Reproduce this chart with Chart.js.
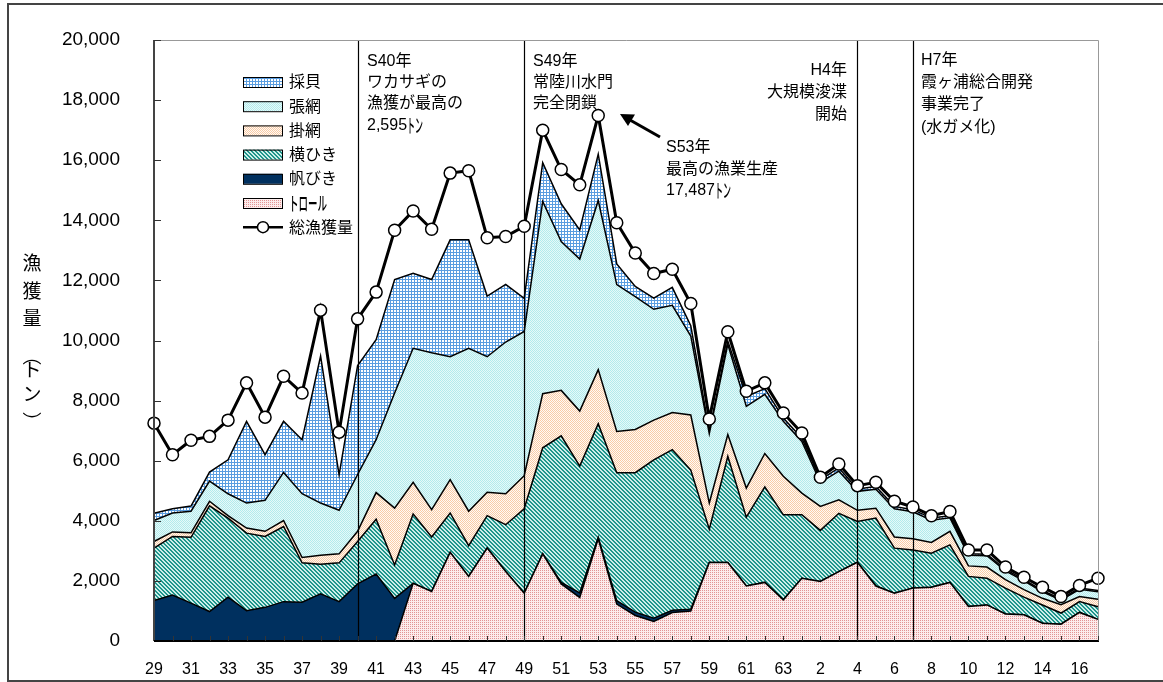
<!DOCTYPE html>
<html>
<head>
<meta charset="utf-8">
<script src="https://cdn.jsdelivr.net/npm/chart.js@4.4.1/dist/chart.umd.min.js"></script>
<style>
  html, body { margin: 0; padding: 0; background: #fff; }
  #wrap { width: 1163px; height: 682px; position: relative; }
</style>
</head>
<body>
<div id="wrap"><canvas id="c" width="1163" height="682"></canvas></div>
<script>
// 年 (S29〜S63, 元, H2〜H17)
const years = [];
for (let y = 29; y <= 63; y++) years.push(String(y));
years.push('元');
for (let y = 2; y <= 17; y++) years.push(String(y));

// 魚種別漁獲量 (トン) — グラフから読み取り
const trawl = [0,0,0,0,0,0,0,0,0,0,0, 0,0,0,1920,1650,2950,2150,3090,2310,1590,
  2900,1900,1450,3400,1230,850,650,950,1000,
  2610,2610,1830,1950,1370,2090,1980,2310,2620,1830,1590,1760,1790,1950,1150,1200,900,870,590,560,950,720];
const hobiki = [1350,1530,1260,980,1460,1010,1120,1310,1290,1570,1310, 1900,2230,1420,0,0,0,0,0,0,0,
  0,50,150,50,110,110,110,70,60,
  0,0,0,0,0,0,0,0,0,0,0,0,0,0,0,0,0,0,0,0,0,0];
const yokohiki = [1740,1950,2190,3520,2630,2580,2360,2500,1310,980,1290, 1410,1820,1110,2310,1810,1310,1020,1080,1560,2810,
  3530,4880,4220,3780,4260,4640,5270,5350,4630,
  1110,3540,2290,3180,2830,2110,1700,1940,1360,2260,1500,1270,1130,1250,1000,890,860,590,610,370,360,420];
const kakeami = [220,150,150,150,80,170,170,200,180,300,300, 340,890,1890,1050,910,1110,1150,780,1030,1100,
  1800,1510,1830,1800,1370,1440,1320,1230,1830,
  870,720,970,1110,1280,720,800,450,370,330,370,370,360,450,350,370,280,250,220,280,170,250];
const hariami = [700,630,720,670,730,830,1030,1600,2120,1740,1450, 1890,1760,3830,4460,5220,4090,5420,4510,5050,4800,
  6400,4950,5060,5630,4890,4420,3690,3570,2630,
  2310,3000,2720,1970,1830,1720,800,950,630,630,940,900,740,450,350,380,290,290,220,150,240,250];
const saikai = [240,140,170,300,1130,2720,1520,1700,1800,4890,1180, 3630,3330,3780,2500,2440,3890,3610,2020,1920,1100,
  1290,1260,970,1540,690,340,370,600,340,
  100,110,330,190,110,110,90,110,80,90,80,70,70,70,50,50,50,40,40,40,40,40];
const total = [7250,6200,6680,6810,7350,8590,7450,8810,8250,11010,6950, 10720,11610,13670,14310,13700,15570,15650,13420,13460,13800,
  17000,15690,15180,17487,13920,12910,12230,12370,11230,
  7390,10290,8310,8590,7590,6920,5450,5890,5170,5280,4650,4460,4170,4310,3030,3030,2460,2120,1790,1480,1850,2090];

// 縦線を引く年の位置 (S40, S49, H4, H7)
const markIdx = [11, 20, 38, 41];

const LAT = '"Liberation Sans", "Noto Sans CJK JP", sans-serif';
const JP = '"Noto Sans CJK JP", sans-serif';

// 塗りパターン
function pat(w, h, draw) {
  const c = document.createElement('canvas');
  c.width = w; c.height = h;
  const g = c.getContext('2d');
  draw(g);
  return g.createPattern(c, 'repeat');
}
const pTrawl = pat(2, 2, g => {
  g.fillStyle = '#fcecec'; g.fillRect(0, 0, 2, 2);
  g.fillStyle = '#e29494'; g.fillRect(0, 0, 1, 1);
});
const pYoko = pat(4, 4, g => {
  g.fillStyle = '#cdeeea'; g.fillRect(0, 0, 4, 4);
  g.fillStyle = '#1f958b';
  for (let i = 0; i < 4; i++) { g.fillRect(i, i, 1, 1); g.fillRect((i + 1) % 4, i, 1, 1); }
});
const pKake = pat(2, 2, g => {
  g.fillStyle = '#fffaf5'; g.fillRect(0, 0, 2, 2);
  g.fillStyle = '#f9cba6'; g.fillRect(0, 0, 1, 1); g.fillRect(1, 1, 1, 1);
});
const pHari = pat(2, 2, g => {
  g.fillStyle = '#e6f9f9'; g.fillRect(0, 0, 2, 2);
  g.fillStyle = '#b2ebec'; g.fillRect(0, 0, 1, 1); g.fillRect(1, 1, 1, 1);
});
const pSai = pat(3, 3, g => {
  g.fillStyle = '#ffffff'; g.fillRect(0, 0, 3, 3);
  g.fillStyle = '#5a9de0'; g.fillRect(0, 0, 3, 1); g.fillRect(0, 0, 1, 3);
});
const navy = '#00305f';

function area(label, data, bg, fill) {
  return {
    label, data, backgroundColor: bg, borderColor: '#000', borderWidth: 1.5,
    fill, pointRadius: 0, tension: 0, order: 1, stack: 'fish'
  };
}

const datasets = [
  area('トロール', trawl, pTrawl, 'origin'),
  area('帆びき', hobiki, navy, '-1'),
  area('横ひき', yokohiki, pYoko, '-1'),
  area('掛網', kakeami, pKake, '-1'),
  area('張網', hariami, pHari, '-1'),
  area('採貝', saikai, pSai, '-1'),
  {
    label: '総漁獲量', data: total, borderColor: '#000', borderWidth: 3,
    backgroundColor: '#fff', pointRadius: 6, pointBorderWidth: 1.5,
    pointBorderColor: '#000', pointBackgroundColor: '#fff',
    fill: false, tension: 0, order: 0, stack: 'total'
  }
];

// 凡例 (上から)
const legendItems = [
  ['採貝', pSai], ['張網', pHari], ['掛網', pKake], ['横ひき', pYoko],
  ['帆びき', navy], ['トロール', pTrawl], ['総漁獲量', null]
];

function text(ctx, lines, x, align) {
  ctx.textAlign = align || 'left';
  ctx.textBaseline = 'middle';
  lines.forEach(l => {
    ctx.font = '16px ' + LAT;
    ctx.fillText(l[0], x, l[1]);
  });
}

// 半角カナ風 (横に縮めて描く)
function narrow(ctx, str, x, y, size, sx) {
  ctx.save();
  ctx.font = '500 ' + size + 'px ' + JP;
  ctx.textAlign = 'left'; ctx.textBaseline = 'middle';
  ctx.translate(x, y); ctx.scale(sx, 1);
  ctx.fillText(str, 0, 0);
  ctx.restore();
}
function numTon(ctx, num, x, y) {
  ctx.font = '16px ' + LAT;
  ctx.textAlign = 'left'; ctx.textBaseline = 'middle';
  ctx.fillText(num, x, y);
  narrow(ctx, 'トン', x + ctx.measureText(num).width, y, 19, 0.42);
}

const deco = {
  id: 'deco',
  beforeDatasetDraw(chart, args) {
    if (args.index !== 6) return;
    const ctx = chart.ctx, a = chart.chartArea, xs = chart.scales.x;
    ctx.save();
    ctx.strokeStyle = '#000';
    ctx.lineWidth = 1.2;
    markIdx.forEach(idx => {
      const x = Math.round(xs.getPixelForValue(idx)) + 0.5;
      ctx.beginPath(); ctx.moveTo(x, a.top); ctx.lineTo(x, a.bottom); ctx.stroke();
    });
    ctx.restore();
  },
  afterDraw(chart) {
    const ctx = chart.ctx, a = chart.chartArea, xs = chart.scales.x, ys = chart.scales.y;
    ctx.save();
    // 枠
    ctx.strokeStyle = '#999'; ctx.lineWidth = 1;
    ctx.beginPath(); ctx.moveTo(a.left, a.top + 0.5); ctx.lineTo(a.right + 0.5, a.top + 0.5);
    ctx.lineTo(a.right + 0.5, a.bottom); ctx.stroke();
    ctx.strokeStyle = '#444'; ctx.lineWidth = 2;
    ctx.beginPath(); ctx.moveTo(a.left, a.top); ctx.lineTo(a.left, a.bottom); ctx.stroke();
    ctx.strokeStyle = '#000';
    ctx.beginPath(); ctx.moveTo(a.left, a.bottom); ctx.lineTo(a.right + 1, a.bottom); ctx.stroke();
    // 目盛り (内向き)
    ctx.lineWidth = 1; ctx.strokeStyle = '#333';
    for (let v = 2000; v <= 20000; v += 2000) {
      const y = Math.round(ys.getPixelForValue(v)) + 0.5;
      ctx.beginPath(); ctx.moveTo(a.left, y); ctx.lineTo(a.left + 7, y); ctx.stroke();
    }
    for (let i = 1; i < years.length; i++) {
      const x = Math.round(xs.getPixelForValue(i)) + 0.5;
      ctx.beginPath(); ctx.moveTo(x, a.bottom); ctx.lineTo(x, a.bottom - 5); ctx.stroke();
    }
    // 外枠
    ctx.strokeStyle = '#444'; ctx.lineWidth = 2;
    ctx.beginPath(); ctx.moveTo(1170, 4); ctx.lineTo(8, 4); ctx.lineTo(8, 681); ctx.lineTo(1170, 681); ctx.stroke();

    ctx.fillStyle = '#000';
    // 縦軸タイトル
    ctx.font = '19px ' + JP;
    ctx.textAlign = 'center'; ctx.textBaseline = 'middle';
    [['漁', 263], ['獲', 291], ['量', 318], ['︵', 356], ['ト', 370], ['ン', 394], ['︶', 422]]
      .forEach(c => ctx.fillText(c[0], 32, c[1]));

    // 凡例
    legendItems.forEach((it, k) => {
      const cy = 82 + k * 24.2;
      if (it[1]) {
        ctx.fillStyle = it[1];
        ctx.fillRect(243, cy - 5, 39, 10);
        ctx.strokeStyle = '#000'; ctx.lineWidth = 1;
        ctx.strokeRect(243.5, cy - 4.5, 39, 10);
      } else {
        ctx.strokeStyle = '#000'; ctx.lineWidth = 2.5;
        ctx.beginPath(); ctx.moveTo(243, cy); ctx.lineTo(283, cy); ctx.stroke();
        ctx.fillStyle = '#fff'; ctx.lineWidth = 1.5;
        ctx.beginPath(); ctx.arc(263, cy, 5.5, 0, Math.PI * 2); ctx.fill(); ctx.stroke();
      }
      ctx.fillStyle = '#000';
      if (it[0] === 'トロール') narrow(ctx, it[0], 289, cy + 1, 19, 0.5);
      else text(ctx, [[it[0], cy + 1]], 289);
    });

    // 注記
    ctx.fillStyle = '#000';
    text(ctx, [['S40年', 62], ['ワカサギの', 83], ['漁獲が最高の', 104]], 367);
    numTon(ctx, '2,595', 367, 126);
    text(ctx, [['S49年', 62], ['常陸川水門', 83], ['完全閉鎖', 104]], 533);
    text(ctx, [['S53年', 148], ['最高の漁業生産', 170]], 666);
    numTon(ctx, '17,487', 666, 191);
    text(ctx, [['H4年', 71], ['大規模浚渫', 93], ['開始', 115]], 847, 'right');
    text(ctx, [['H7年', 61], ['霞ヶ浦総合開発', 83], ['事業完了', 105], ['(水ガメ化)', 128]], 921);

    // 矢印
    ctx.strokeStyle = '#000'; ctx.lineWidth = 3;
    ctx.beginPath(); ctx.moveTo(660, 137); ctx.lineTo(630, 120); ctx.stroke();
    ctx.beginPath();
    ctx.moveTo(620, 114); ctx.lineTo(635, 114.5); ctx.lineTo(628, 126); ctx.closePath(); ctx.fill();
    ctx.restore();
  }
};

new Chart(document.getElementById('c'), {
  type: 'line',
  data: { labels: years, datasets },
  plugins: [deco],
  options: {
    responsive: false,
    animation: false,
    layout: { padding: { top: 40, right: 65, left: 0, bottom: 0 } },
    plugins: { legend: { display: false }, tooltip: { enabled: false } },
    scales: {
      x: {
        offset: false,
        grid: { display: false },
        border: { display: false },
        ticks: {
          autoSkip: false, maxRotation: 0, padding: 11, color: '#000',
          font: { family: LAT, size: 16 },
          callback: (v, i) => (i % 2 === 0 ? years[i] : '')
        },
        afterFit: s => { s.height = 41; }
      },
      y: {
        stacked: true, min: 0, max: 20000,
        grid: { display: false },
        border: { display: false },
        ticks: {
          stepSize: 2000, padding: 26, color: '#000',
          font: { family: LAT, size: 19 },
          callback: v => v.toLocaleString('en-US')
        },
        afterFit: s => { s.width = 154; }
      }
    }
  }
});
</script>
</body>
</html>
